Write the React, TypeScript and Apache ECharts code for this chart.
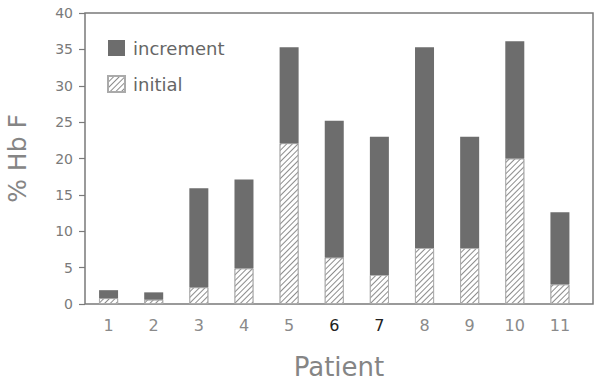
import React, { useEffect, useRef } from "react";
import * as echarts from "echarts";

const patients = ["1", "2", "3", "4", "5", "6", "7", "8", "9", "10", "11"];
const initialVals = [0.8, 0.6, 2.3, 4.9, 22.1, 6.4, 4.0, 7.7, 7.7, 20.0, 2.7];
const totalVals = [1.9, 1.6, 15.9, 17.1, 35.3, 25.2, 23.0, 35.3, 23.0, 36.1, 12.6];
const incrementVals = totalVals.map((t, i) => +(t - initialVals[i]).toFixed(2));
const boldLabels = ["6", "7"];

export default function App() {
  const ref = useRef<HTMLDivElement>(null);
  useEffect(() => {
    document.body.style.margin = "0";
    if (!ref.current) return;
    const chart = echarts.init(ref.current, null, { renderer: "svg" });
    const font = "DejaVu Sans";
    const frame = "#7a7a7a";
    chart.setOption({
      animation: false,
      textStyle: { fontFamily: font },
      grid: [
        {
          left: 85,
          right: 9,
          top: 13,
          bottom: 80,
          show: true,
          borderColor: frame,
          borderWidth: 1.5,
          containLabel: false,
          outerBoundsMode: "none",
        },
        {
          left: 86,
          right: 19.5,
          top: 13,
          bottom: 80,
          containLabel: false,
          outerBoundsMode: "none",
        },
      ],
      legend: {
        orient: "vertical",
        left: 102,
        top: 34,
        itemWidth: 17,
        itemHeight: 16,
        itemGap: 18,
        icon: "rect",
        data: ["increment", "initial"],
        textStyle: { fontSize: 18, color: "#666", fontFamily: font, padding: [0, 0, 0, 3] },
      },
      xAxis: [
        {
          gridIndex: 0,
          type: "category",
          data: [""],
          name: "Patient",
          nameLocation: "middle",
          nameGap: 50,
          nameTextStyle: { fontSize: 26, color: "#858585", fontFamily: font },
          axisLine: { show: false },
          axisTick: { show: false },
          axisLabel: { show: false },
          splitLine: { show: false },
        },
        {
          gridIndex: 1,
          type: "category",
          data: patients,
          axisLine: { show: false },
          axisTick: { show: false },
          splitLine: { show: false },
          axisLabel: {
            interval: 0,
            margin: 13,
            fontSize: 16,
            color: "#8a8a8a",
            fontFamily: font,
            formatter: (v: string) => (boldLabels.includes(v) ? `{d|${v}}` : v),
            rich: { d: { color: "#222", fontSize: 16, fontFamily: font } },
          },
        },
      ],
      yAxis: [
        {
          gridIndex: 0,
          type: "value",
          min: 0,
          max: 40,
          interval: 5,
          name: "% Hb F",
          nameLocation: "middle",
          nameGap: 55,
          nameTextStyle: { fontSize: 25, color: "#858585", fontFamily: font },
          axisLine: { show: false },
          axisTick: { show: true, inside: false, length: 6, lineStyle: { color: frame, width: 1.2 } },
          splitLine: { show: false },
          axisLabel: { margin: 12, fontSize: 14, color: "#7a7a7a", fontFamily: font },
        },
        {
          gridIndex: 1,
          type: "value",
          min: 0,
          max: 40,
          interval: 5,
          show: false,
          splitLine: { show: false },
        },
      ],
      series: [
        {
          name: "initial",
          type: "bar",
          stack: "a",
          xAxisIndex: 1,
          yAxisIndex: 1,
          barWidth: 19,
          data: initialVals,
          itemStyle: {
            color: "#ffffff",
            borderColor: "#aaa",
            borderWidth: 0.8,
            decal: {
              symbol: "rect",
              color: "#8c8c8c",
              backgroundColor: "#ffffff",
              dashArrayX: [1, 0],
              dashArrayY: [1, 2.5],
              rotation: -Math.PI / 4,
              symbolSize: 1,
            },
          },
        },
        {
          name: "increment",
          type: "bar",
          stack: "a",
          xAxisIndex: 1,
          yAxisIndex: 1,
          barWidth: 19,
          data: incrementVals,
          itemStyle: { color: "#6d6d6d" },
        },
      ],
    });
    return () => chart.dispose();
  }, []);
  return <div ref={ref} style={{ width: 602, height: 384 }} />;
}
